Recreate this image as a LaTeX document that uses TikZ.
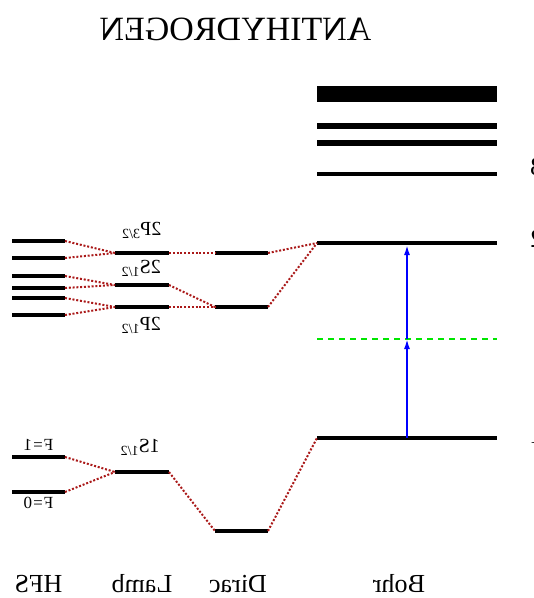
\documentclass[tikz,border=0pt]{standalone}
\usepackage{fontspec}
\setmainfont{Liberation Serif}
\usepackage{graphicx}
\usetikzlibrary{arrows.meta}

\definecolor{hopred}{RGB}{170,25,25}
\definecolor{midgreen}{RGB}{0,230,0}

% a level: name, left x, right x, y
\newcommand{\lvl}[5][]{%
  \coordinate (#2-l) at (#3,#5);
  \coordinate (#2-r) at (#4,#5);
  \draw[lvline,#1] (#2-l) -- (#2-r);}
\newcommand{\mir}[1]{\reflectbox{#1}}

\begin{document}
\begin{tikzpicture}[x=1pt,y=-1pt,
  lvline/.style={line width=3.8pt},
  hop/.style={hopred,line width=2pt,dash pattern=on 2pt off 1.8pt},
  jump/.style={blue,line width=1.8pt,-{Latex[length=10pt,width=6pt]}},
  mid/.style={midgreen,line width=1.5pt,dash pattern=on 6pt off 5pt},
  state/.style={anchor=base,inner sep=0pt,font=\fontsize{20}{20}\selectfont},
  spin/.style={anchor=base,inner sep=0pt,font=\fontsize{17}{17}\selectfont},
  col/.style={anchor=base,inner sep=0pt,font=\fontsize{26}{26}\selectfont}]

\useasboundingbox (0,0) rectangle (534,598);

\node[anchor=base,inner sep=0pt,font=\fontsize{34}{34}\selectfont] (title) at (235.5,40) {\mir{ANTIHYDROGEN}};

% HFS
\lvl{hfsA}{12}{65}{241}
\lvl{hfsB}{12}{65}{258}
\lvl{hfsC}{12}{65}{276}
\lvl{hfsD}{12}{65}{288}
\lvl{hfsE}{12}{65}{298}
\lvl{hfsF}{12}{65}{315}
\lvl{hfsOne}{12}{65}{457}
\lvl{hfsZero}{12}{65}{492}

% Lamb
\lvl{lambPa}{115}{169}{253}
\lvl{lambS}{115}{169}{285}
\lvl{lambPb}{115}{169}{307}
\lvl{lambG}{115}{169}{472}

% Dirac
\lvl{dirA}{215}{268}{253}
\lvl{dirB}{215}{268}{307}
\lvl{dirG}{215}{268}{531}

% Bohr
\lvl[line width=16.6pt]{bohrTop}{317}{497}{94}
\lvl[line width=6pt]{bohrE}{317}{497}{126}
\lvl[line width=6pt]{bohrD}{317}{497}{143}
\lvl[line width=4.5pt]{bohrC}{317}{497}{174}
\lvl[line width=4.5pt]{bohrB}{317}{497}{243}
\lvl[line width=4.5pt]{bohrA}{317}{497}{438}
\coordinate (midL) at (317,339);
\coordinate (midR) at (497,339);
\draw[mid] (midL) -- (midR);

\draw[hop] (hfsA-r) -- (lambPa-l);
\draw[hop] (hfsB-r) -- (lambPa-l);
\draw[hop] (hfsC-r) -- (lambS-l);
\draw[hop] (hfsD-r) -- (lambS-l);
\draw[hop] (hfsE-r) -- (lambPb-l);
\draw[hop] (hfsF-r) -- (lambPb-l);
\draw[hop] (hfsOne-r) -- (lambG-l);
\draw[hop] (hfsZero-r) -- (lambG-l);
\draw[hop] (lambPa-r) -- (dirA-l);
\draw[hop] (lambS-r) -- (dirB-l);
\draw[hop] (lambPb-r) -- (dirB-l);
\draw[hop] (lambG-r) -- (dirG-l);
\draw[hop] (dirA-r) -- (bohrB-l);
\draw[hop] (dirB-r) -- (bohrB-l);
\draw[hop] (dirG-r) -- (bohrA-l);

% two photons
\coordinate (from) at (407,438);
\coordinate (via) at (407,339);
\coordinate (to) at (407,245);
\draw[jump] (from) -- (via);
\draw[jump] (via) -- (to);

\node[state] (p32) at (141.5,235) {\mir{2P\textsubscript{3/2}}};
\node[state] (s12) at (141,273) {\mir{2S\textsubscript{1/2}}};
\node[state] (p12) at (141,330) {\mir{2P\textsubscript{1/2}}};
\node[state] (g12) at (140,452) {\mir{1S\textsubscript{1/2}}};
\node[spin] (fone) at (38.5,450) {\mir{F\kern1pt=\kern1pt1}};
\node[spin] (fzero) at (38.5,508) {\mir{F\kern1pt=\kern1pt0}};

\node[col] (hfs) at (38.5,592) {\mir{HFS}};
\node[col] (lamb) at (142,592) {\mir{Lamb}};
\node[col] (dirac) at (238,592) {\mir{Dirac}};
\node[col] (bohr) at (399,592) {\mir{Bohr}};

\node[col,anchor=base west] (nthree) at (530,175) {\mir{3}};
\node[col,anchor=base west] (ntwo) at (530,247) {\mir{2}};
\node[col,anchor=base west] (none) at (530,443) {\mir{1}};
\end{tikzpicture}
\end{document}
